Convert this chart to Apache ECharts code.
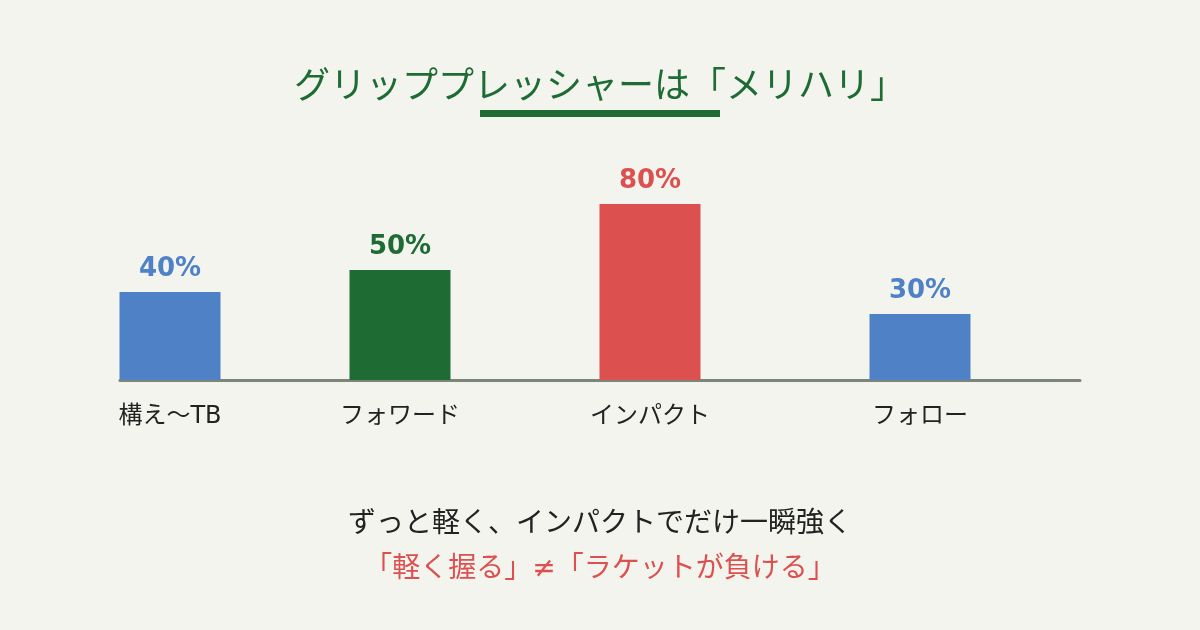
<!DOCTYPE html>
<html>
<head>
<meta charset="utf-8">
<script src="https://cdn.jsdelivr.net/npm/echarts@6/dist/echarts.min.js"></script>
<style>
  html, body { margin: 0; padding: 0; background: #f4f4ef; }
  #chart { width: 1200px; height: 630px; }
</style>
</head>
<body>
<div id="chart"></div>
<script>
// データ
const categories = ['構え〜TB', 'フォワード', 'インパクト', 'フォロー'];
const pressure = [40, 50, 80, 30];

const titleText = 'グリッププレッシャーは「メリハリ」';
const noteText = 'ずっと軽く、インパクトでだけ一瞬強く';
const warnText = '「軽く握る」≠「ラケットが負ける」';

// 見た目
const barColors = ['#4f81c7', '#1e6b34', '#dc5050', '#4f81c7'];
const slotCenters = [170, 400, 650, 920]; // 各バーの中心(px)
const font = "'DejaVu Sans', 'Noto Sans CJK JP', sans-serif";

const chart = echarts.init(document.getElementById('chart'));

const grids = [], xAxes = [], yAxes = [], series = [];
categories.forEach((name, i) => {
  grids.push({ left: slotCenters[i] - 60, width: 120, top: 160, height: 220 });
  xAxes.push({
    gridIndex: i, type: 'category', data: [name],
    axisLine: { show: false }, axisTick: { show: false },
    axisLabel: { margin: 25, fontSize: 24, color: '#222', fontFamily: font }
  });
  yAxes.push({ gridIndex: i, type: 'value', min: 0, max: 100, show: false });
  series.push({
    type: 'bar', xAxisIndex: i, yAxisIndex: i,
    data: [pressure[i]], barWidth: 101,
    itemStyle: { color: barColors[i] },
    label: {
      show: true, position: 'top', distance: 10, formatter: '{c}%',
      fontSize: 26, fontWeight: 'bold', color: barColors[i], fontFamily: font
    }
  });
});
// ベースライン用
grids.push({ left: 120, width: 960, top: 160, height: 220 });
xAxes.push({
  gridIndex: 4, type: 'value', min: 0, max: 1,
  axisLine: { show: true, lineStyle: { color: '#7d857a', width: 3 } },
  axisTick: { show: false }, axisLabel: { show: false }, splitLine: { show: false }
});
yAxes.push({ gridIndex: 4, type: 'value', min: 0, max: 1, show: false });

const option = {
  backgroundColor: '#f4f4ef',
  title: [
    { text: titleText, left: 'center', top: 66,
      textStyle: { fontSize: 36, fontWeight: 'normal', color: '#1e6b34', fontFamily: font } },
    { text: noteText, left: 'center', top: 506,
      textStyle: { fontSize: 28, fontWeight: 'normal', color: '#222', fontFamily: font } },
    { text: warnText, left: 'center', top: 551,
      textStyle: { fontSize: 28, fontWeight: 'normal', color: '#dc5050', fontFamily: font } }
  ],
  graphic: [
    { type: 'rect', shape: { x: 480, y: 110, width: 240, height: 7 }, style: { fill: '#1e6b34' } }
  ],
  grid: grids,
  xAxis: xAxes,
  yAxis: yAxes,
  series: series
};

chart.setOption(option);
</script>
</body>
</html>
